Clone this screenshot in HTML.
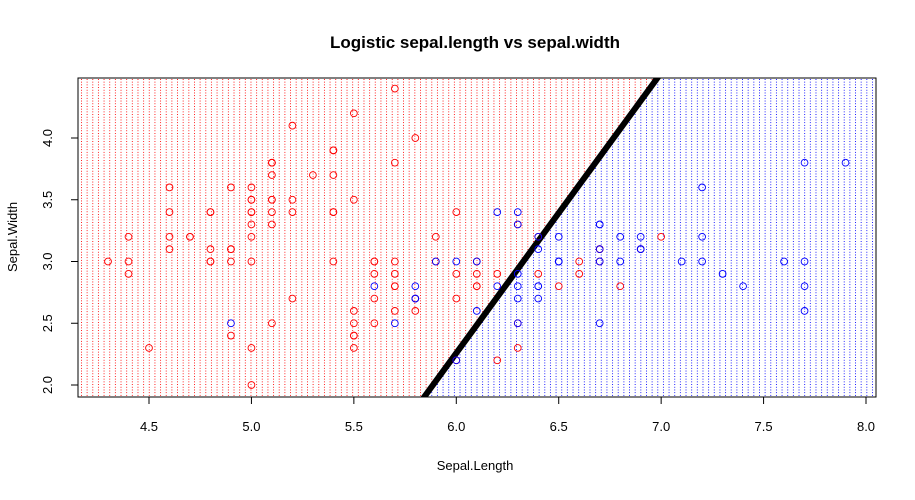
<!DOCTYPE html>
<html><head><meta charset="utf-8"><style>
body{margin:0;background:#fff}
svg text{font-family:"Liberation Sans",Arial,sans-serif}
</style></head><body>
<svg id="chart" width="915" height="495" viewBox="0 0 915 495" xmlns="http://www.w3.org/2000/svg">
<defs>
<pattern id="pr" patternUnits="userSpaceOnUse" x="81" y="79" width="5.65" height="2.7"><rect width="1" height="1" fill="#ff0000" shape-rendering="crispEdges"/></pattern>
<pattern id="pb" patternUnits="userSpaceOnUse" x="81" y="79" width="5.65" height="2.7"><rect width="1" height="1" fill="#0000ff" shape-rendering="crispEdges"/></pattern>
<clipPath id="plotclip"><rect x="78" y="78" width="798" height="319"/></clipPath>
</defs>
<g id="bg" clip-path="url(#plotclip)"></g>
<g id="marks" clip-path="url(#plotclip)"></g>
<rect x="78" y="78" width="798" height="319" fill="none" stroke="#000" stroke-width="1"/>
<g id="axes"></g>
<text x="475" y="48" text-anchor="middle" font-size="17" font-weight="bold">Logistic sepal.length vs sepal.width</text>
<text x="475" y="470" text-anchor="middle" font-size="13">Sepal.Length</text>
<text transform="translate(17,237) rotate(-90)" text-anchor="middle" font-size="13">Sepal.Width</text>
</svg>
<script>
const sepalLength=[5.1,4.9,4.7,4.6,5.0,5.4,4.6,5.0,4.4,4.9,5.4,4.8,4.8,4.3,5.8,5.7,5.4,5.1,5.7,5.1,5.4,5.1,4.6,5.1,4.8,5.0,5.0,5.2,5.2,4.7,4.8,5.4,5.2,5.5,4.9,5.0,5.5,4.9,4.4,5.1,5.0,4.5,4.4,5.0,5.1,4.8,5.1,4.6,5.3,5.0,
7.0,6.4,6.9,5.5,6.5,5.7,6.3,4.9,6.6,5.2,5.0,5.9,6.0,6.1,5.6,6.7,5.6,5.8,6.2,5.6,5.9,6.1,6.3,6.1,6.4,6.6,6.8,6.7,6.0,5.7,5.5,5.5,5.8,6.0,5.4,6.0,6.7,6.3,5.6,5.5,5.5,6.1,5.8,5.0,5.6,5.7,5.7,6.2,5.1,5.7,
6.3,5.8,7.1,6.3,6.5,7.6,4.9,7.3,6.7,7.2,6.5,6.4,6.8,5.7,5.8,6.4,6.5,7.7,7.7,6.0,6.9,5.6,7.7,6.3,6.7,7.2,6.2,6.1,6.4,7.2,7.4,7.9,6.4,6.3,6.1,7.7,6.3,6.4,6.0,6.9,6.7,6.9,5.8,6.8,6.7,6.7,6.3,6.5,6.2,5.9];
const sepalWidth=[3.5,3.0,3.2,3.1,3.6,3.9,3.4,3.4,2.9,3.1,3.7,3.4,3.0,3.0,4.0,4.4,3.9,3.5,3.8,3.8,3.4,3.7,3.6,3.3,3.4,3.0,3.4,3.5,3.4,3.2,3.1,3.4,4.1,4.2,3.1,3.2,3.5,3.6,3.0,3.4,3.5,2.3,3.2,3.5,3.8,3.0,3.8,3.2,3.7,3.3,
3.2,3.2,3.1,2.3,2.8,2.8,3.3,2.4,2.9,2.7,2.0,3.0,2.2,2.9,2.9,3.1,3.0,2.7,2.2,2.5,3.2,2.8,2.5,2.8,2.9,3.0,2.8,3.0,2.9,2.6,2.4,2.4,2.7,2.7,3.0,3.4,3.1,2.3,3.0,2.5,2.6,3.0,2.6,2.3,2.7,3.0,2.9,2.9,2.5,2.8,
3.3,2.7,3.0,2.9,3.0,3.0,2.5,2.9,2.5,3.6,3.2,2.7,3.0,2.5,2.8,3.2,3.0,3.8,2.6,2.2,3.2,2.8,2.8,2.7,3.3,3.2,2.8,3.0,2.8,3.0,2.8,3.8,2.8,2.8,2.6,3.0,3.4,3.1,3.0,3.1,3.1,3.1,2.7,3.2,3.3,3.0,2.5,3.0,3.4,3.0];
const classCounts=[100,50];
const boundary=[[5.82,1.85],[7.01,4.55]];
const xTicks=[4.5,5.0,5.5,6.0,6.5,7.0,7.5,8.0];
const yTicks=[2.0,2.5,3.0,3.5,4.0];

const NS="http://www.w3.org/2000/svg";
const xs=v=>149+(v-4.5)*204.86;
const ys=v=>385-(v-2.0)*123.5;
function mk(t,a,p){const e=document.createElementNS(NS,t);for(const k in a)e.setAttribute(k,a[k]);p.appendChild(e);return e;}
const bg=document.getElementById('bg'),marks=document.getElementById('marks'),axes=document.getElementById('axes');
const [p0,p1]=boundary;const m=(p1[1]-p0[1])/(p1[0]-p0[0]);
const xAt=y=>p0[0]+(y-p0[1])/m;
const yb=1.5,yt=5.0;
const bx=xs(xAt(yb)),by=ys(yb),tx=xs(xAt(yt)),ty=ys(yt);
const red=mk('polygon',{points:`0,${by} ${bx},${by} ${tx},${ty} 0,${ty}`,fill:'url(#pr)'},bg);


const blue=mk('polygon',{points:`${bx},${by} 915,${by} 915,${ty} ${tx},${ty}`,fill:'url(#pb)'},bg);


const line=mk('line',{x1:bx,y1:by,x2:tx,y2:ty,stroke:'#000','stroke-width':6},bg);


for(let i=0;i<sepalLength.length;i++){
  const c=mk('circle',{cx:xs(sepalLength[i]),cy:ys(sepalWidth[i]),r:3.4,fill:'none',stroke:i<classCounts[0]?'#ff0000':'#0000ff','stroke-width':0.9},marks);
  
  
}
mk('line',{x1:xs(4.5),y1:397,x2:xs(8.0),y2:397,stroke:'#000'},axes);
xTicks.forEach(v=>{
  mk('line',{x1:xs(v),y1:397,x2:xs(v),y2:404,stroke:'#000'},axes);
  const t=mk('text',{x:xs(v),y:431,'text-anchor':'middle','font-size':13},axes);
  t.textContent=v.toFixed(1);
  
  
});
mk('line',{x1:78,y1:ys(2.0),x2:78,y2:ys(4.0),stroke:'#000'},axes);
yTicks.forEach(v=>{
  mk('line',{x1:71,y1:ys(v),x2:78,y2:ys(v),stroke:'#000'},axes);
  const t=mk('text',{transform:`translate(52,${ys(v)}) rotate(-90)`,'text-anchor':'middle','font-size':13},axes);
  t.textContent=v.toFixed(1);
  
  
});
</script>
</body></html>
